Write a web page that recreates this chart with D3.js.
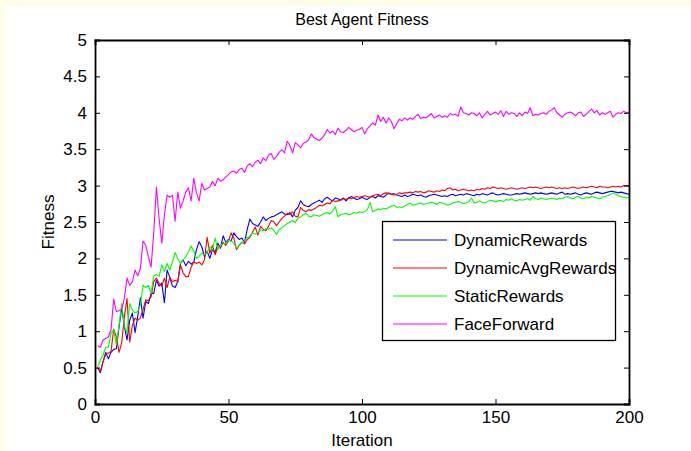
<!DOCTYPE html>
<html><head><meta charset="utf-8">
<script src="https://cdn.jsdelivr.net/npm/d3@7"></script>
<style>
html,body{margin:0;padding:0;background:#fffde8;}
svg{display:block;font-family:"Liberation Sans",Arial,sans-serif;}
</style></head>
<body>
<svg id="c" width="691" height="451"></svg>
<script>
const title = "Best Agent Fitness";
const xLabel = "Iteration";
const yLabel = "Fitness";
const xTicks = [0, 50, 100, 150, 200];
const yTicks = [0, 0.5, 1, 1.5, 2, 2.5, 3, 3.5, 4, 4.5, 5];
const seriesNames = ["DynamicRewards", "DynamicAvgRewards", "StaticRewards", "FaceForward"];
const seriesColors = ["#0000ff", "#ff0000", "#00ff00", "#ff00ff"];

const dynamicRewards = [
0.50,0.43,0.58,0.71,0.62,0.71,0.75,0.76,1.06,1.32,
1.07,0.88,1.15,1.25,0.98,1.20,1.46,1.18,1.41,1.38,
1.52,1.52,1.70,1.62,1.66,1.39,1.84,1.74,1.62,1.60,
1.68,1.93,1.98,1.90,1.96,1.92,1.95,2.12,2.23,2.16,
2.02,2.10,2.00,2.12,2.08,2.21,2.14,2.31,2.22,2.26,
2.24,2.35,2.30,2.26,2.28,2.22,2.40,2.54,2.48,2.46,
2.44,2.50,2.57,2.52,2.55,2.57,2.58,2.60,2.62,2.64,
2.61,2.60,2.63,2.57,2.66,2.70,2.79,2.74,2.72,2.71,
2.74,2.76,2.78,2.80,2.77,2.82,2.84,2.81,2.79,2.83,
2.82,2.80,2.83,2.79,2.83,2.85,2.83,2.81,2.82,2.84,
2.82,2.81,2.84,2.85,2.83,2.86,2.85,2.84,2.87,2.90,
2.88,2.89,2.87,2.86,2.85,2.87,2.85,2.86,2.88,2.87,
2.86,2.87,2.85,2.84,2.86,2.87,2.88,2.87,2.86,2.85,
2.86,2.85,2.87,2.88,2.86,2.87,2.88,2.87,2.89,2.88,
2.87,2.86,2.88,2.87,2.89,2.88,2.87,2.89,2.90,2.88,
2.87,2.88,2.89,2.88,2.87,2.87,2.88,2.89,2.88,2.89,
2.90,2.89,2.88,2.89,2.90,2.89,2.90,2.89,2.88,2.89,
2.90,2.89,2.88,2.90,2.91,2.88,2.89,2.88,2.89,2.90,
2.88,2.87,2.89,2.90,2.89,2.88,2.90,2.91,2.90,2.89,
2.90,2.91,2.92,2.92,2.91,2.90,2.91,2.90,2.89,2.88];

const dynamicAvgRewards = [
0.49,0.45,0.58,0.68,0.70,0.72,1.03,0.92,0.71,0.84,
1.20,1.45,0.85,1.08,1.18,1.15,1.18,1.30,1.43,1.42,
1.47,1.68,1.73,1.66,1.62,1.73,1.60,1.74,1.68,1.70,
1.68,1.91,1.80,1.75,1.75,1.88,1.95,1.93,1.95,1.91,
1.98,2.29,2.07,2.18,2.05,2.16,2.15,2.22,2.18,2.24,
2.35,2.28,2.12,2.18,2.22,2.20,2.26,2.29,2.36,2.43,
2.32,2.44,2.40,2.38,2.44,2.52,2.50,2.45,2.50,2.55,
2.58,2.62,2.60,2.64,2.58,2.57,2.70,2.66,2.64,2.67,
2.66,2.68,2.70,2.73,2.72,2.74,2.76,2.75,2.80,2.78,
2.79,2.80,2.82,2.81,2.83,2.82,2.84,2.85,2.84,2.85,
2.86,2.85,2.84,2.86,2.87,2.88,2.86,2.89,2.90,2.89,
2.88,2.87,2.88,2.90,2.89,2.90,2.90,2.91,2.90,2.92,
2.91,2.92,2.90,2.91,2.93,2.92,2.91,2.93,2.92,2.94,
2.93,2.96,2.97,2.94,2.95,2.93,2.94,2.95,2.94,2.93,
2.94,2.93,2.95,2.94,2.96,2.95,2.97,2.96,2.98,2.97,
2.96,2.97,2.96,2.95,2.96,2.97,2.96,2.95,2.96,2.97,
2.96,2.97,2.98,2.97,2.98,2.97,2.96,2.97,2.98,2.97,
2.98,2.97,2.96,2.97,2.96,2.97,2.96,2.97,2.98,2.97,
2.96,2.97,2.98,2.97,2.98,2.99,2.98,2.97,2.99,2.98,
2.98,2.97,2.98,2.99,2.98,2.99,2.98,3.00,3.00,3.00];

const staticRewards = [
0.51,0.60,0.67,0.78,0.78,0.97,1.02,0.81,1.08,1.38,
1.07,0.97,1.38,1.29,1.25,1.27,1.36,1.63,1.60,1.63,
1.52,1.76,1.78,1.75,1.91,1.82,1.93,1.84,1.95,2.08,
2.00,1.93,1.98,2.02,2.09,2.17,2.10,2.00,2.03,2.07,
2.05,2.08,2.16,2.12,2.28,2.12,2.18,2.20,2.21,2.25,
2.24,2.21,2.14,2.18,2.22,2.24,2.29,2.30,2.35,2.33,
2.36,2.39,2.38,2.41,2.40,2.42,2.38,2.33,2.40,2.42,
2.45,2.48,2.50,2.52,2.49,2.55,2.57,2.60,2.62,2.58,
2.57,2.60,2.59,2.58,2.60,2.62,2.63,2.61,2.65,2.71,
2.57,2.60,2.61,2.62,2.60,2.61,2.63,2.62,2.64,2.63,
2.64,2.67,2.77,2.64,2.66,2.68,2.67,2.69,2.68,2.70,
2.72,2.73,2.70,2.71,2.70,2.72,2.74,2.76,2.73,2.74,
2.75,2.76,2.74,2.75,2.76,2.77,2.76,2.74,2.77,2.76,
2.75,2.73,2.74,2.76,2.77,2.78,2.77,2.75,2.76,2.78,
2.83,2.76,2.77,2.79,2.77,2.76,2.78,2.80,2.79,2.78,
2.79,2.80,2.78,2.81,2.80,2.82,2.80,2.79,2.81,2.80,
2.81,2.82,2.80,2.85,2.82,2.81,2.83,2.82,2.81,2.82,
2.83,2.82,2.81,2.83,2.82,2.84,2.85,2.83,2.82,2.84,
2.85,2.83,2.82,2.84,2.83,2.85,2.84,2.83,2.82,2.84,
2.85,2.86,2.88,2.90,2.88,2.86,2.85,2.84,2.83,2.84];

const faceForward = [
0.80,0.78,0.88,0.90,0.92,1.02,1.44,1.27,1.28,1.30,
1.45,1.73,1.63,1.68,1.84,1.76,1.86,2.24,2.18,2.02,
1.88,2.35,2.98,2.55,2.21,2.60,2.87,2.84,2.87,2.51,
2.91,2.69,2.79,2.91,2.97,2.79,3.10,2.90,2.79,3.03,
2.94,2.96,2.98,3.06,3.00,3.10,3.06,3.08,3.12,3.15,
3.19,3.20,3.17,3.22,3.24,3.18,3.27,3.30,3.26,3.32,
3.35,3.30,3.38,3.34,3.42,3.44,3.36,3.40,3.46,3.49,
3.45,3.61,3.55,3.45,3.59,3.56,3.52,3.58,3.60,3.63,
3.71,3.66,3.64,3.62,3.65,3.70,3.77,3.72,3.75,3.70,
3.79,3.74,3.73,3.76,3.80,3.77,3.74,3.76,3.77,3.80,
3.71,3.78,3.82,3.86,3.83,3.97,3.88,3.94,3.86,3.93,
3.88,3.78,3.85,3.91,3.89,3.93,3.90,3.93,3.91,3.95,
3.98,3.92,3.94,3.93,3.96,3.99,3.93,3.95,3.97,3.94,
3.96,3.94,3.99,3.97,3.98,3.95,4.08,4.00,3.99,3.97,
4.00,3.99,3.96,4.00,3.93,3.98,4.02,3.97,3.99,4.01,
3.98,4.03,3.95,4.02,3.98,4.00,3.99,3.95,4.00,3.96,
4.01,3.99,4.07,3.96,3.98,3.97,3.99,4.00,3.98,4.02,
4.04,4.07,4.00,3.97,3.94,3.98,4.00,4.01,3.99,3.96,
4.00,4.01,3.95,3.98,4.02,4.05,4.00,4.03,3.97,4.00,
3.98,4.00,4.02,3.94,3.98,4.00,3.99,4.02,4.00,4.01];

const seriesData = [dynamicRewards, dynamicAvgRewards, staticRewards, faceForward];

const svg = d3.select("#c");
const W = 691, H = 451;
const m = {left: 95, right: 62, top: 40, bottom: 47};
const pw = W - m.left - m.right, ph = H - m.top - m.bottom;

// white figure area
svg.append("rect").attr("x", 5).attr("y", 6).attr("width", W - 5).attr("height", H - 6).attr("fill", "#ffffff");

const x = d3.scaleLinear().domain([0, 200]).range([m.left, m.left + pw]);
const y = d3.scaleLinear().domain([0, 5]).range([m.top + ph, m.top]);

const line = d3.line().x((d, i) => x(i + 1)).y(d => y(d));
const plot = svg.append("g");
seriesData.forEach((s, k) => {
  plot.append("path").datum(s).attr("d", line)
    .attr("fill", "none").attr("stroke", seriesColors[k]).attr("stroke-width", 1.1)
    .attr("stroke-linejoin", "round");
});

// axes (MATLAB box style, ticks inward)
const tl = 5;
const fs = 17;
const gx = svg.append("g").attr("transform", `translate(0,${m.top + ph})`)
  .call(d3.axisBottom(x).tickValues(xTicks).tickSize(-tl).tickPadding(7).tickFormat(d3.format("d")));
const gxt = svg.append("g").attr("transform", `translate(0,${m.top})`)
  .call(d3.axisTop(x).tickValues(xTicks).tickSize(-tl).tickFormat(""));
const gy = svg.append("g").attr("transform", `translate(${m.left},0)`)
  .call(d3.axisLeft(y).tickValues(yTicks).tickSize(-tl).tickPadding(8).tickFormat(d => String(d)));
const gyr = svg.append("g").attr("transform", `translate(${m.left + pw},0)`)
  .call(d3.axisRight(y).tickValues(yTicks).tickSize(-tl).tickFormat(""));
[gx, gxt, gy, gyr].forEach(g => {
  g.select(".domain").attr("stroke", "#000").attr("stroke-width", 1.8);
  g.selectAll(".tick line").attr("stroke", "#000").attr("stroke-width", 1);
  g.selectAll("text").attr("fill", "#000").style("font-size", fs + "px").style("font-family", '"Liberation Sans", Arial, sans-serif');
});
gx.selectAll(".tick text").attr("dy", "0.72em");

svg.append("text").attr("x", x(100)).attr("y", 25).attr("text-anchor", "middle")
  .style("font-size", "16px").attr("fill", "#000").text(title);
svg.append("text").attr("x", x(100)).attr("y", 446).attr("text-anchor", "middle")
  .style("font-size", fs + "px").attr("fill", "#000").text(xLabel);
svg.append("text").attr("transform", `translate(54,${y(2.5)}) rotate(-90)`).attr("text-anchor", "middle")
  .style("font-size", fs + "px").attr("fill", "#000").text(yLabel);

// legend
const lg = svg.append("g");
lg.append("rect").attr("x", 382.5).attr("y", 221.5).attr("width", 233).attr("height", 119)
  .attr("fill", "#fff").attr("stroke", "#000").attr("stroke-width", 1.3);
seriesNames.forEach((n, k) => {
  const yy = 240 + k * 28;
  lg.append("line").attr("x1", 393).attr("x2", 447).attr("y1", yy).attr("y2", yy)
    .attr("stroke", seriesColors[k]).attr("stroke-width", 1.1);
  lg.append("text").attr("x", 454).attr("y", yy).attr("dy", "0.35em")
    .style("font-size", fs + "px").attr("fill", "#000").text(n);
});
</script>
</body></html>
